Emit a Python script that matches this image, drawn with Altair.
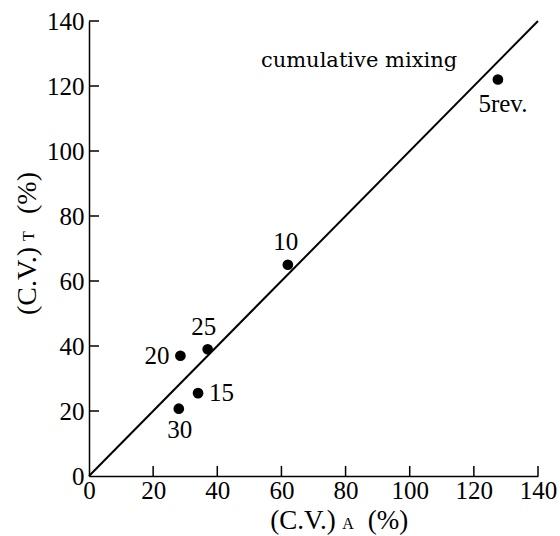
import altair as alt
import pandas as pd

# Coefficient of variation: (C.V.)_A against (C.V.)_T, labelled by revolutions
cycles = ["5rev.", "10", "15", "20", "25", "30"]
cv_a = [127.5, 62, 34, 28.5, 37, 28]
cv_t = [122, 65, 25.5, 37, 39, 20.7]

# Reference line y = x
diag_a = [0, 140]
diag_t = [0, 140]

tick_values = [0, 20, 40, 60, 80, 100, 120, 140]
inner_ticks = [20, 40, 60, 80, 100, 120, 140]

SERIF = "Liberation Serif"
W, H = 449, 455

sx = alt.Scale(domain=[0, 140], nice=False, zero=True)
sy = alt.Scale(domain=[0, 140], nice=False, zero=True)

x_axis = alt.Axis(values=tick_values, ticks=False, grid=False, title=None,
                  domainColor="black", domainWidth=1.5, labelFont=SERIF,
                  labelFontSize=25, labelColor="black", labelPadding=2,
                  labelFlush=False, labelOverlap=False)
y_axis = alt.Axis(values=tick_values, ticks=False, grid=False, title=None,
                  domainColor="black", domainWidth=1.5, labelFont=SERIF,
                  labelFontSize=25, labelColor="black", labelPadding=5,
                  labelOverlap=False)


def X(field):
    return alt.X(field, scale=sx, axis=x_axis)


def Y(field):
    return alt.Y(field, scale=sy, axis=y_axis)


pts = pd.DataFrame({"cycle": cycles, "a": cv_a, "t": cv_t})

points = alt.Chart(pts).mark_circle(size=115, color="black", opacity=1).encode(
    x=X("a:Q"), y=Y("t:Q")
)

diag = alt.Chart(pd.DataFrame({"a": diag_a, "t": diag_t})).mark_line(
    color="black", strokeWidth=2
).encode(x=X("a:Q"), y=Y("t:Q"))

# Inward-pointing tick marks on both axes
y_ticks = alt.Chart(pd.DataFrame({"t": inner_ticks})).mark_rule(
    color="black", strokeWidth=1.5
).encode(y=Y("t:Q"), x=alt.value(0), x2=alt.value(10))
x_ticks = alt.Chart(pd.DataFrame({"a": inner_ticks})).mark_rule(
    color="black", strokeWidth=1.5
).encode(x=X("a:Q"), y=alt.value(H), y2=alt.value(H - 10))

# Point labels, each with its own placement around the dot
label_place = {
    "5rev.": dict(dx=5, dy=24, align="center"),
    "10": dict(dx=-2, dy=-23, align="center"),
    "15": dict(dx=11, dy=0, align="left"),
    "20": dict(dx=-11, dy=0, align="right"),
    "25": dict(dx=-4, dy=-22, align="center"),
    "30": dict(dx=1, dy=21, align="center"),
}
labels = []
for c in cycles:
    p = label_place[c]
    labels.append(
        alt.Chart(pts[pts["cycle"] == c]).mark_text(
            font=SERIF, fontSize=25, color="black", baseline="middle", **p
        ).encode(x=X("a:Q"), y=Y("t:Q"), text="cycle:N")
    )

note = alt.Chart(pd.DataFrame({"a": [84.2], "t": [127.7], "s": ["cumulative mixing"]})).mark_text(
    font="DejaVu Serif", fontSize=21, color="black", baseline="middle", align="center"
).encode(x=X("a:Q"), y=Y("t:Q"), text="s:N")


def piece(text, x, y, size, angle=0):
    return alt.Chart(pd.DataFrame({"k": [0]})).mark_text(
        text=text, font=SERIF, fontSize=size, color="black",
        align="center", baseline="alphabetic", angle=angle
    ).encode(x=alt.value(x), y=alt.value(y))


# Axis titles with subscripts
titles = [
    piece("(C.V.)", 214, 508, 27),
    piece("A", 259, 508, 16),
    piece("(%)", 299, 508, 27),
    piece("(C.V.)", -53, 260, 28, angle=270),
    piece("T", -55, 215, 16, angle=270),
    piece("(%)", -53, 172, 28, angle=270),
]

chart = alt.layer(
    points, diag, y_ticks, x_ticks, note, *labels, *titles
).properties(
    width=W, height=H,
    autosize=alt.AutoSizeParams(type="none"),
    padding={"left": 89, "top": 21, "right": 22, "bottom": 60},
    background="white",
).configure_view(stroke=None)

chart.save("out.html", embed_options={"renderer": "svg", "actions": False})
